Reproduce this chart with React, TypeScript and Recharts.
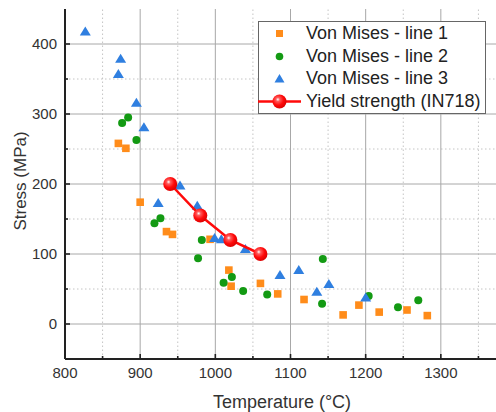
import React from 'react';
import { ScatterChart, Scatter, XAxis, YAxis, ReferenceLine, Legend } from 'recharts';

const line1 = [
  { t: 871, s: 258 }, { t: 881, s: 251 }, { t: 900, s: 174 }, { t: 935, s: 132 },
  { t: 943, s: 128 }, { t: 993, s: 121 }, { t: 1018, s: 77 }, { t: 1021, s: 54 },
  { t: 1060, s: 58 }, { t: 1083, s: 43 }, { t: 1118, s: 35 }, { t: 1170, s: 13 },
  { t: 1191, s: 27 }, { t: 1218, s: 17 }, { t: 1255, s: 20 }, { t: 1282, s: 12 },
];
const line2 = [
  { t: 876, s: 287 }, { t: 884, s: 295 }, { t: 895, s: 263 }, { t: 919, s: 144 },
  { t: 927, s: 151 }, { t: 977, s: 94 }, { t: 982, s: 120 }, { t: 1011, s: 59 },
  { t: 1022, s: 67 }, { t: 1037, s: 47 }, { t: 1069, s: 42 }, { t: 1143, s: 93 },
  { t: 1142, s: 29 }, { t: 1204, s: 40 }, { t: 1243, s: 24 }, { t: 1270, s: 34 },
];
const line3 = [
  { t: 827, s: 418 }, { t: 871, s: 357 }, { t: 874, s: 379 }, { t: 895, s: 316 },
  { t: 905, s: 281 }, { t: 924, s: 173 }, { t: 953, s: 198 }, { t: 976, s: 169 },
  { t: 999, s: 123 }, { t: 1008, s: 121 }, { t: 1040, s: 107 }, { t: 1086, s: 70 },
  { t: 1111, s: 77 }, { t: 1135, s: 46 }, { t: 1151, s: 57 }, { t: 1200, s: 38 },
];
const yieldIN718 = [
  { t: 940, s: 200 }, { t: 980, s: 155 }, { t: 1020, s: 120 }, { t: 1060, s: 100 },
];

const seriesNames = ['Von Mises - line 1', 'Von Mises - line 2', 'Von Mises - line 3', 'Yield strength (IN718)'];
const xTicks = [800, 850, 900, 950, 1000, 1050, 1100, 1150, 1200, 1250, 1300, 1350];
const yTicks = [0, 50, 100, 150, 200, 250, 300, 350, 400];
const xMajor = [900, 1000, 1100, 1200, 1300];
const xMinor = [850, 950, 1050, 1150, 1250, 1350];
const yMajor = [0, 100, 200, 300, 400];
const yMinor = [50, 150, 250, 350];

const FONT = '"Liberation Sans", Arial, sans-serif';
const ORANGE = '#FF8C1A';
const GREEN = '#139A13';
const BLUE = '#2F7FE0';
const RED = '#FF0A0A';
const AX = '#222';

const XTickBottom = (props: any) => {
  const { x, y, payload } = props;
  const v = payload.value;
  const major = v % 100 === 0;
  return (
    <g>
      <line x1={x} x2={x} y1={y} y2={y - (major ? 5 : 3)} stroke={AX} strokeWidth={1.6} />
      {major && (
        <text x={x} y={y + 19} textAnchor="middle" fontSize={15} fill="#333" fontFamily={FONT}>{v}</text>
      )}
    </g>
  );
};
const XTickTop = (props: any) => {
  const { x, y, payload } = props;
  const major = payload.value % 100 === 0;
  return <line x1={x} x2={x} y1={y} y2={y + (major ? 5 : 3)} stroke={AX} strokeWidth={1.6} />;
};
const YTick = (props: any) => {
  const { x, y, payload } = props;
  const v = payload.value;
  const major = v % 100 === 0;
  return (
    <g>
      <line x1={x} x2={x + (major ? 5 : 3)} y1={y} y2={y} stroke={AX} strokeWidth={1.6} />
      {major && (
        <text x={x - 8} y={y + 5} textAnchor="end" fontSize={15} fill="#333" fontFamily={FONT}>{v}</text>
      )}
    </g>
  );
};

const Square = (p: any) => <rect x={p.cx - 3.8} y={p.cy - 3.8} width={7.6} height={7.6} fill={ORANGE} />;
const Dot = (p: any) => <circle cx={p.cx} cy={p.cy} r={4} fill={GREEN} />;
const Tri = (p: any) => (
  <polygon points={`${p.cx},${p.cy - 5} ${p.cx - 5.5},${p.cy + 4} ${p.cx + 5.5},${p.cy + 4}`} fill={BLUE} />
);
const BallDefs = () => (
  <defs>
    <radialGradient id="ballGrad" cx="40%" cy="38%" r="65%" fx="38%" fy="35%">
      <stop offset="0%" stopColor="#ffffff" />
      <stop offset="22%" stopColor="#ff5a5a" />
      <stop offset="60%" stopColor="#ff0a0a" />
      <stop offset="100%" stopColor="#d80000" />
    </radialGradient>
  </defs>
);
const Ball = (p: any) => (
  <g>
    <BallDefs />
    <circle cx={p.cx} cy={p.cy} r={7} fill="url(#ballGrad)" />
  </g>
);

const LegendBox = () => {
  const icons = [
    <rect key="a" x={18} y={7} width={7} height={7} fill={ORANGE} />,
    <circle key="b" cx={21.5} cy={10.5} r={3.8} fill={GREEN} />,
    <polygon key="c" points="21.5,6 16.5,14.5 26.5,14.5" fill={BLUE} />,
    <g key="d">
      <BallDefs />
      <line x1={0} x2={43} y1={10.5} y2={10.5} stroke={RED} strokeWidth={2.5} />
      <circle cx={21.5} cy={10.5} r={7} fill="url(#ballGrad)" />
    </g>,
  ];
  return (
    <div style={{ width: 228, height: 93, boxSizing: 'border-box', border: '1px solid #666', background: '#fff', position: 'relative' }}>
      {seriesNames.map((n, i) => (
        <div key={n} style={{ position: 'absolute', left: -1, top: 1 + i * 22.7, height: 21, display: 'flex', alignItems: 'center' }}>
          <svg width={44} height={21} style={{ display: 'block', overflow: 'visible' }}>{icons[i]}</svg>
          <span style={{ marginLeft: 4, fontFamily: FONT, fontSize: 18, color: '#222', whiteSpace: 'nowrap', lineHeight: '21px' }}>{n}</span>
        </div>
      ))}
    </div>
  );
};

export default function App() {
  return (
    <div style={{ position: 'absolute', left: 0, top: 0, width: 496, height: 412, overflow: 'hidden', background: '#fff' }}>
      <ScatterChart width={530} height={412} margin={{ top: 9, right: 14, bottom: 0, left: 0 }}>
        <XAxis
          xAxisId="b" type="number" dataKey="t" domain={[800, 1400]} ticks={xTicks} interval={0}
          orientation="bottom" height={53} tickSize={0} tickMargin={0} tick={<XTickBottom />}
          axisLine={{ stroke: AX, strokeWidth: 2 }} tickLine={false} allowDataOverflow
          label={{
            content: (lp: any) => {
              const vb = lp.viewBox || {};
              return (
                <text x={282} y={(vb.y || 359) + 49} textAnchor="middle" fontSize={18} fill="#333" fontFamily={FONT}>
                  Temperature (°C)
                </text>
              );
            },
          }}
        />
        <XAxis
          xAxisId="t" type="number" dataKey="t" domain={[800, 1400]} ticks={xTicks} interval={0}
          orientation="top" height={0} tickSize={0} tickMargin={0} tick={<XTickTop />}
          axisLine={{ stroke: AX, strokeWidth: 2 }} tickLine={false} allowDataOverflow
        />
        <YAxis
          yAxisId="l" type="number" dataKey="s" domain={[-50, 450]} ticks={yTicks} interval={0}
          width={65} tickSize={0} tickMargin={0} tick={<YTick />}
          axisLine={{ stroke: AX, strokeWidth: 2 }} tickLine={false} allowDataOverflow
          label={{
            content: () => (
              <text x={26} y={181} textAnchor="middle" transform="rotate(-90 26 181)" fontSize={17} fill="#333" fontFamily={FONT}>
                Stress (MPa)
              </text>
            ),
          }}
        />
        {xMinor.map((v) => (
          <ReferenceLine key={'xm' + v} x={v} xAxisId="b" yAxisId="l" stroke="#c4c4c4" strokeWidth={1} strokeDasharray="1.5 2.5" />
        ))}
        {yMinor.map((v) => (
          <ReferenceLine key={'ym' + v} y={v} xAxisId="b" yAxisId="l" stroke="#c4c4c4" strokeWidth={1} strokeDasharray="1.5 2.5" />
        ))}
        {xMajor.map((v) => (
          <ReferenceLine key={'xM' + v} x={v} xAxisId="b" yAxisId="l" stroke="#a8a8a8" strokeWidth={1} />
        ))}
        {yMajor.map((v) => (
          <ReferenceLine key={'yM' + v} y={v} xAxisId="b" yAxisId="l" stroke="#a8a8a8" strokeWidth={1} />
        ))}
        <Scatter name={seriesNames[0]} data={line1} xAxisId="b" yAxisId="l" shape={<Square />} isAnimationActive={false} />
        <Scatter name={seriesNames[1]} data={line2} xAxisId="b" yAxisId="l" shape={<Dot />} isAnimationActive={false} />
        <Scatter name={seriesNames[2]} data={line3} xAxisId="b" yAxisId="l" shape={<Tri />} isAnimationActive={false} />
        <Scatter
          name={seriesNames[3]} data={yieldIN718} xAxisId="b" yAxisId="l" shape={<Ball />}
          line={{ stroke: RED, strokeWidth: 2.5 }} isAnimationActive={false}
        />
        <Legend
          layout="vertical" align="center" verticalAlign="middle"
          content={() => <LegendBox />}
          wrapperStyle={{ position: 'absolute', left: 258, top: 21, width: 228, height: 93 }}
        />
      </ScatterChart>
    </div>
  );
}
